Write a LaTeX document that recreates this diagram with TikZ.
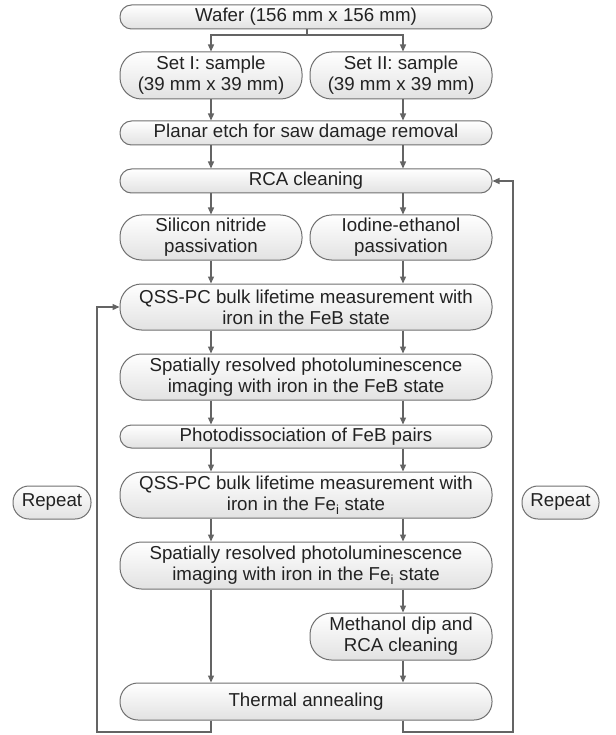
\documentclass[tikz,border=0pt]{standalone}
\usepackage{fontspec}
\setmainfont{Liberation Sans}
\usetikzlibrary{arrows.meta}
\definecolor{bordercol}{HTML}{707070}
\definecolor{linecol}{HTML}{646464}
\definecolor{boxbot}{HTML}{E2E2E2}
\definecolor{txtcol}{HTML}{222222}
\tikzset{
  box/.style={draw=bordercol, line width=1pt, top color=white, bottom color=boxbot,
    inner sep=0pt, align=center, text=txtcol,
    font=\fontsize{18.7}{21}\selectfont},
  box1/.style={box, rounded corners=11.5pt},
  box2/.style={box, rounded corners=21.5pt},
  conn/.style={draw=linecol, line width=1.3pt},
  arr/.style={conn, -{Triangle[length=7pt,width=6pt]}},
}
\begin{document}
\begin{tikzpicture}[x=1pt,y=-1pt]
\useasboundingbox[fill=white] (0,0) rectangle (615,735);
\coordinate (xL) at (211,0);
\coordinate (xR) at (403,0);
\coordinate (split) at (307,35);
\coordinate (bl) at (97,732);
\coordinate (br) at (513,732);

\node[box1, minimum width=372pt, minimum height=24pt] (wafer) at (306,17) {Wafer (156 mm x 156 mm)};
\node[box2, minimum width=182pt, minimum height=47pt] (set1) at (211,75.5) {Set I: sample\\(39 mm x 39 mm)};
\node[box2, minimum width=182pt, minimum height=47pt] (set2) at (401,75.5) {Set II: sample\\(39 mm x 39 mm)};
\node[box1, minimum width=372pt, minimum height=24pt] (planar) at (306,133) {Planar etch for saw damage removal};
\node[box1, minimum width=372pt, minimum height=24pt] (rca) at (306,181) {RCA cleaning};
\node[box2, minimum width=182pt, minimum height=45pt] (sin) at (211,237.5) {Silicon nitride\\passivation};
\node[box2, minimum width=182pt, minimum height=45pt] (iod) at (401,237.5) {Iodine-ethanol\\passivation};
\node[box2, minimum width=372pt, minimum height=46pt] (qss1) at (306,307) {QSS-PC bulk lifetime measurement with\\iron in the FeB state};
\node[box2, minimum width=372pt, minimum height=46pt] (sr1) at (306,377) {Spatially resolved photoluminescence\\imaging with iron in the FeB state};
\node[box1, minimum width=372pt, minimum height=23pt] (photo) at (306,436.5) {Photodissociation of FeB pairs};
\node[box2, minimum width=372pt, minimum height=46pt] (qss2) at (306,495) {QSS-PC bulk lifetime measurement with\\iron in the Fe\textsubscript{i} state};
\node[box2, minimum width=372pt, minimum height=47pt] (sr2) at (306,565.5) {Spatially resolved photoluminescence\\imaging with iron in the Fe\textsubscript{i} state};
\node[box2, minimum width=182pt, minimum height=47pt] (meth) at (401,636.5) {Methanol dip and\\RCA cleaning};
\node[box2, rounded corners=18pt, minimum width=372pt, minimum height=37pt] (therm) at (306,701.5) {Thermal annealing};
\node[box2, rounded corners=16pt, minimum width=78pt, minimum height=33pt] (rep1) at (52,502.5) {Repeat};
\node[box2, rounded corners=16pt, minimum width=77pt, minimum height=33pt] (rep2) at (560.5,502.5) {Repeat};

% split from wafer
\draw[conn] (wafer.south -| split) -- (split);
\draw[arr] (split) -| (set1.north -| xL);
\draw[arr] (split) -| (set2.north -| xR);
% vertical arrows
\draw[arr] (set1.south -| xL) -- (planar.north -| xL);
\draw[arr] (set2.south -| xR) -- (planar.north -| xR);
\draw[arr] (planar.south -| xL) -- (rca.north -| xL);
\draw[arr] (planar.south -| xR) -- (rca.north -| xR);
\draw[arr] (rca.south -| xL) -- (sin.north -| xL);
\draw[arr] (rca.south -| xR) -- (iod.north -| xR);
\draw[arr] (sin.south -| xL) -- (qss1.north -| xL);
\draw[arr] (iod.south -| xR) -- (qss1.north -| xR);
\draw[arr] (qss1.south -| xL) -- (sr1.north -| xL);
\draw[arr] (qss1.south -| xR) -- (sr1.north -| xR);
\draw[arr] (sr1.south -| xL) -- (photo.north -| xL);
\draw[arr] (sr1.south -| xR) -- (photo.north -| xR);
\draw[arr] (photo.south -| xL) -- (qss2.north -| xL);
\draw[arr] (photo.south -| xR) -- (qss2.north -| xR);
\draw[arr] (qss2.south -| xL) -- (sr2.north -| xL);
\draw[arr] (qss2.south -| xR) -- (sr2.north -| xR);
\draw[arr] (sr2.south -| xL) -- (therm.north -| xL);
\draw[arr] (sr2.south -| xR) -- (meth.north -| xR);
\draw[arr] (meth.south -| xR) -- (therm.north -| xR);
% loops
\draw[arr] (therm.south -| xL) |- (bl) |- (qss1.west);
\draw[arr] (therm.south -| xR) |- (br) |- (rca.east);
\end{tikzpicture}
\end{document}
